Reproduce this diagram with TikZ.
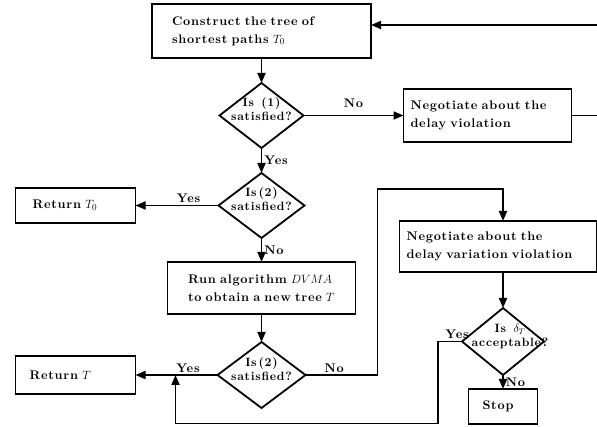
\documentclass[tikz,border=0pt]{standalone}
\usepackage{fontspec}
\setmainfont{lmroman10-regular.otf}[
  BoldFont = lmroman10-bold.otf,
  ItalicFont = lmroman10-italic.otf,
  LetterSpace = 6,
  WordSpace = 1.4]
\usepackage{tikz}
\usetikzlibrary{arrows.meta}
\usetikzlibrary{calc}
\usetikzlibrary{positioning}
\usetikzlibrary{shapes.geometric}

\begin{document}
\begin{tikzpicture}
  [
    x = 1pt, y = 1pt,
    font = \fontsize{12.5}{18}\selectfont\bfseries,
    proc/.style = {draw, line width = 1.8pt, rectangle, align = left,
                   inner ysep = 0pt, outer sep = 0pt},
    dec/.style = {draw, line width = 1.8pt, diamond, inner sep = 0pt,
                  outer sep = 0pt},
    dtext/.style = {align = center, inner sep = 0pt, yshift = 6pt,
                    font = \fontsize{12}{14}\selectfont\bfseries},
    lbl/.style = {inner sep = 2pt},
    arrow/.style = {line width = 1.8pt, -{Triangle[length = 10pt, width = 8pt]}},
    line/.style = {line width = 1.8pt},
  ]

  \useasboundingbox (0,0) rectangle (597,-427);

  % main column
  \node[proc, text width = 179pt, inner xsep = 20pt, minimum height = 54pt]
    (construct) at (261.5,-31) {Construct the tree of\\shortest paths $T_0$};
  \node[dec, minimum width = 84pt, minimum height = 65pt,
        label = {[dtext]center:Is (1)\\satisfied?}]
    [below = 25pt of construct] (sat1) {};
  \node[dec, minimum width = 86pt, minimum height = 65pt,
        label = {[dtext]center:Is\,(2)\\satisfied?}]
    [below = 25pt of sat1] (sat2) {};
  \node[proc, text width = 167pt, inner xsep = 10.5pt, minimum height = 52pt]
    [below = 24pt of sat2] (dvma) {\hspace{10pt}Run algorithm $DVMA$\\\hspace{10pt}to obtain a new tree $T$};
  \node[dec, minimum width = 88pt, minimum height = 66pt,
        label = {[dtext]center:Is\,(2)\\satisfied?}]
    [below = 28pt of dvma] (sat3) {};

  % left side
  \node[proc, text width = 86pt, inner xsep = 17pt, minimum height = 35pt]
    [left = 83pt of sat2] (ret0) {Return $T_0$};
  \node[proc, text width = 92pt, inner xsep = 14pt, minimum height = 38pt]
    [left = 82pt of sat3] (retT) {Return $T$};

  % right side
  \node[proc, text width = 154pt, inner xsep = 7pt, minimum height = 53pt]
    [right = 100pt of sat1] (negdelay) {Negotiate about the\\delay violation};
  \node[proc, text width = 183pt, inner xsep = 7pt, minimum height = 51pt]
    [right = 44pt of dvma, yshift = 41.5pt] (negvar) {Negotiate about the\\delay variation violation};
  \node[dec, minimum width = 82pt, minimum height = 67pt,
        label = {[dtext, xshift = 7pt, yshift = -1pt]center:Is $\delta_T$\\acceptable?}]
    [below = 36pt of negvar, xshift = 5pt] (accept) {};
  \node[proc, text width = 41pt, inner xsep = 14pt, minimum height = 35pt]
    [below = 14pt of accept] (stop) {Stop};

  \coordinate (join) at ([xshift = 40pt]retT.east);
  \coordinate (varin) at (negvar.north -| accept.north);
  \coordinate (edgetop) at (597,-25);
  \coordinate (edgemid) at (negdelay.east -| edgetop);

  % connectors
  \draw[arrow] (construct) -- (sat1);
  \draw[arrow] (sat1) -- node[lbl, right] {Yes} (sat2);
  \draw[arrow] (sat2) -- node[lbl, right] {No} (dvma);
  \draw[arrow] (dvma) -- (sat3);
  \draw[arrow] (sat1.east) -- node[lbl, above = 5pt] {No} (negdelay.west);
  \draw[arrow] (sat2.west) -- node[lbl, above, pos = 0.36] {Yes} (ret0.east);
  \draw[arrow] (sat3.west) -- node[lbl, above, pos = 0.36] {Yes} (retT.east);
  \draw[arrow] (sat3.east) -- node[lbl, above, pos = 0.4] {No} ++(72,0)
    |- ([yshift = 32pt]varin) -- (varin);
  \draw[arrow] (negvar.south -| accept.north) -- (accept.north);
  \draw[arrow] (accept.south) -- node[lbl, right] {No} (stop.north -| accept.south);
  \draw[arrow] (accept.west) -- node[lbl, above, pos = 0.2] {Yes} ++(-24,0)
    -- ++(0,-82) -| (join);
  \draw[line] (negdelay.east) -- (edgemid);
  \draw[arrow] (edgetop) -- (edgetop -| construct.east);

\end{tikzpicture}
\end{document}
